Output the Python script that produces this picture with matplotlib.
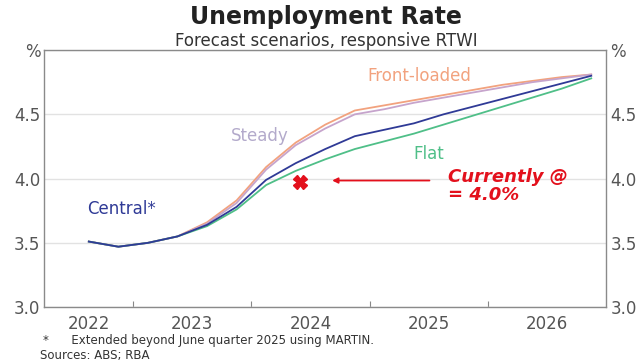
import matplotlib
matplotlib.use("Agg")
import matplotlib.pyplot as plt

# quarterly, plotted at mid-quarter (Sep-22 .. Dec-26)
quarters = [2022.625 + 0.25 * i for i in range(18)]

central = [3.51, 3.47, 3.50, 3.55, 3.64, 3.78, 3.99, 4.12, 4.23, 4.33, 4.38, 4.43, 4.50, 4.56, 4.62, 4.68, 4.74, 4.80]
flat = [3.51, 3.47, 3.50, 3.55, 3.63, 3.76, 3.95, 4.06, 4.15, 4.23, 4.29, 4.35, 4.42, 4.49, 4.56, 4.63, 4.70, 4.78]
front_loaded = [3.51, 3.47, 3.50, 3.55, 3.66, 3.83, 4.09, 4.28, 4.42, 4.53, 4.57, 4.61, 4.65, 4.69, 4.73, 4.76, 4.79, 4.81]
steady = [3.51, 3.47, 3.50, 3.55, 3.65, 3.81, 4.07, 4.26, 4.39, 4.50, 4.54, 4.59, 4.63, 4.67, 4.71, 4.75, 4.78, 4.81]

current_x = 2024.41
current_rate = 3.97

years = [2022, 2023, 2024, 2025, 2026]
y_ticks = [3.0, 3.5, 4.0, 4.5, 5.0]
y_labels = ["3.0", "3.5", "4.0", "4.5", "%"]

c_front = "#F2A27E"
c_steady = "#C6A4CC"
c_central = "#2F3A96"
c_flat = "#4FBF88"
red = "#E3101C"
grey = "#555555"

fig = plt.figure(figsize=(6.39, 3.63), dpi=100)
ax = fig.add_axes([0.0696, 0.154, 0.8788, 0.708])

ax.plot(quarters, front_loaded, color=c_front, lw=1.3)
ax.plot(quarters, steady, color=c_steady, lw=1.3)
ax.plot(quarters, flat, color=c_flat, lw=1.3)
ax.plot(quarters, central, color=c_central, lw=1.3)

ax.set_xlim(2022.25, 2027.0)
ax.set_ylim(3.0, 5.0)

ax.set_yticks(y_ticks)
ax.set_yticklabels(y_labels)
ax.tick_params(axis="y", length=0, pad=3, labelsize=12, labelcolor=grey,
               right=True, labelright=True)
ax.yaxis.grid(True, color="#E2E2E2", lw=1)
ax.set_axisbelow(True)

# year boundaries as ticks, labels centred in each year
ax.set_xticks([y + 1 for y in years[:-1]])
ax.set_xticklabels([])
ax.tick_params(axis="x", direction="in", length=4, color="#888888")
for y in years:
    left = max(y, 2022.25)
    ax.text((left + y + 1) / 2, -0.03, str(y), transform=ax.get_xaxis_transform(),
            ha="center", va="top", fontsize=12, color=grey)

for s in ax.spines.values():
    s.set_color("#8A8A8A")
    s.set_linewidth(1)

# series labels
ax.text(2025.42, 4.80, "Front-loaded", color=c_front, fontsize=12, ha="center", va="center")
ax.text(2024.07, 4.33, "Steady", color="#B3AACB", fontsize=12, ha="center", va="center")
ax.text(2022.9, 3.76, "Central*", color=c_central, fontsize=12, ha="center", va="center")
ax.text(2025.5, 4.19, "Flat", color=c_flat, fontsize=12, ha="center", va="center")

# current rate marker + callout
ax.plot(current_x, current_rate, marker="X", color=red, markersize=10, mec=red)
ax.annotate("", xy=(2024.66, 3.985), xytext=(2025.53, 3.985),
            arrowprops=dict(arrowstyle="-|>", color=red, lw=1.3, mutation_scale=8))
ax.text(2025.66, 4.08, "Currently @\n= 4.0%", color=red, fontsize=13,
        fontweight="bold", fontstyle="italic", ha="left", va="top", linespacing=1.0)

fig.text(0.51, 0.952, "Unemployment Rate", ha="center", va="center",
         fontsize=17, fontweight="bold", color="#222222")
fig.text(0.51, 0.888, "Forecast scenarios, responsive RTWI", ha="center", va="center",
         fontsize=12, color="#333333")

fig.text(0.068, 0.062, "*      Extended beyond June quarter 2025 using MARTIN.",
         fontsize=8.5, color="#333333", va="center")
fig.text(0.063, 0.022, "Sources: ABS; RBA", fontsize=8.5, color="#333333", va="center")

fig.savefig("out.png", dpi=100)
